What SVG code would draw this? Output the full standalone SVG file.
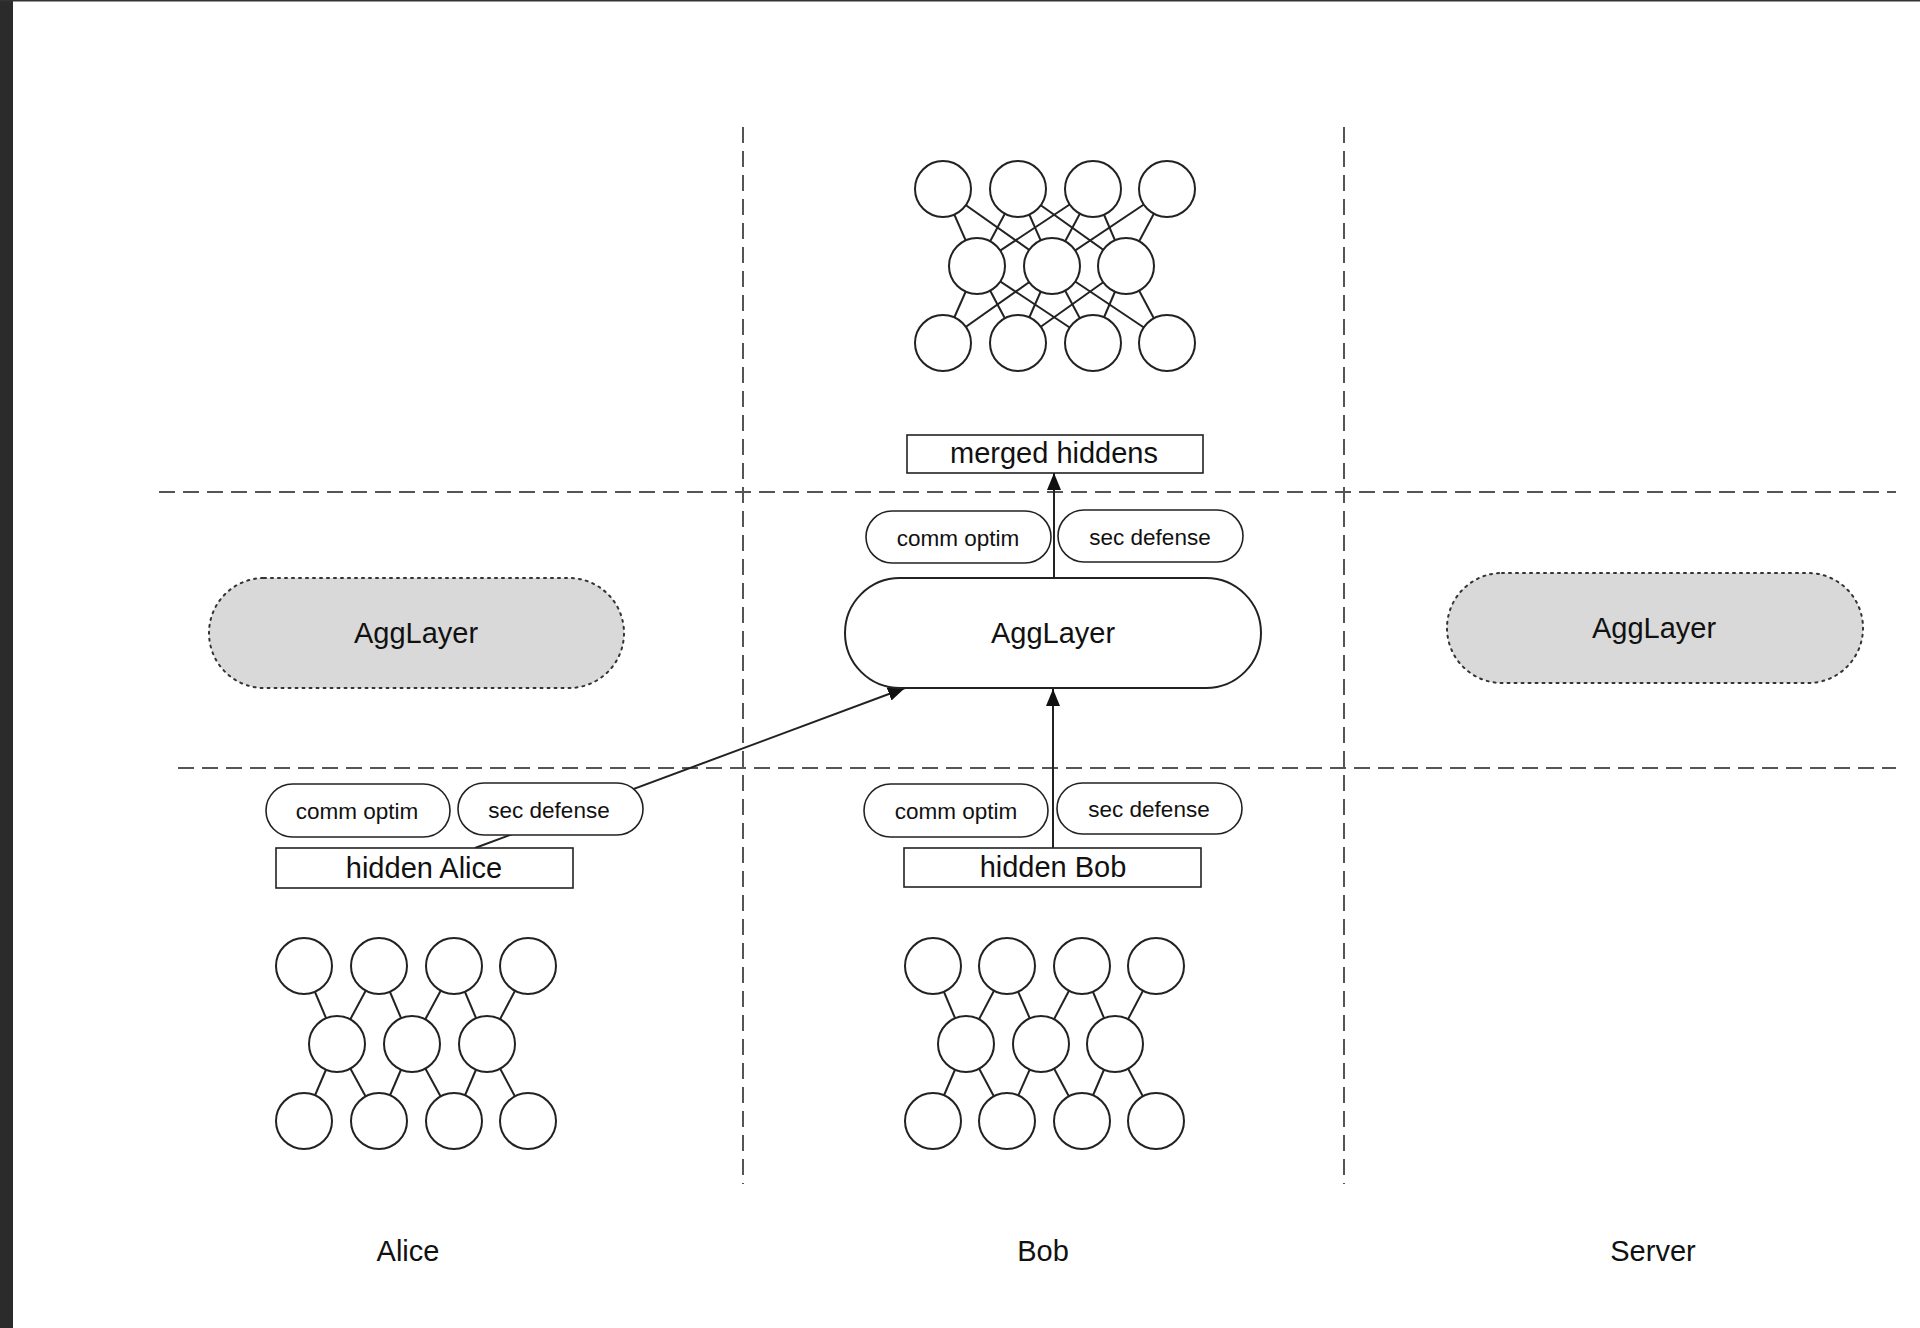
<svg xmlns="http://www.w3.org/2000/svg" width="1920" height="1328" viewBox="0 0 1920 1328">
<defs>
<style>
.dash{stroke:#555;stroke-width:2;stroke-dasharray:16 8;fill:none}
.nn line{stroke:#222;stroke-width:2}
.nn circle{fill:#fff;stroke:#222;stroke-width:2}
.pill{fill:#fff;stroke:#222;stroke-width:1.6}
.box{fill:#fff;stroke:#222;stroke-width:1.6}
.ghost{fill:#d9d9d9;stroke:#333;stroke-width:2;stroke-dasharray:2 5;stroke-linecap:round}
.agg{fill:#fff;stroke:#222;stroke-width:2}
text{font-family:"Liberation Sans",Arial,sans-serif;fill:#111;text-anchor:middle}
.t29{font-size:29px}
.t22{font-size:22.5px}
.conn{stroke:#222;stroke-width:2;fill:none}
</style>
<marker id="arr" viewBox="0 0 10 10" refX="10" refY="5" markerWidth="8" markerHeight="8" markerUnits="userSpaceOnUse" orient="auto">
<path d="M0,0 L10,5 L0,10 z" fill="#111"/>
</marker>
<marker id="ah" viewBox="0 0 17 14" refX="17" refY="7" markerWidth="17" markerHeight="14" markerUnits="userSpaceOnUse" orient="auto">
<path d="M0,0 L17,7 L0,14 z" fill="#111"/>
</marker>
</defs>
<rect x="0" y="0" width="1920" height="1328" fill="#fff"/>
<rect x="0" y="0" width="13" height="1328" fill="#2b2b2b"/>
<rect x="0" y="0" width="1920" height="1.5" fill="#333"/>

<g id="dividers">
<line class="dash" x1="743" y1="127" x2="743" y2="1184"/>
<line class="dash" x1="1344" y1="127" x2="1344" y2="1184"/>
<line class="dash" x1="159" y1="492" x2="1896" y2="492"/>
<line class="dash" x1="178" y1="768" x2="1896" y2="768"/>
</g>

<g id="connectors">
<line class="conn" x1="475" y1="848" x2="905" y2="688" marker-end="url(#ah)"/>
<line class="conn" x1="1053" y1="848" x2="1053" y2="689" marker-end="url(#ah)"/>
<line class="conn" x1="1054" y1="578" x2="1054" y2="473" marker-end="url(#ah)"/>
</g>

<g id="net-merged" class="nn">
<line x1="977" y1="266" x2="943" y2="189"/><line x1="977" y1="266" x2="1018" y2="189"/><line x1="977" y1="266" x2="1093" y2="189"/>
<line x1="1052" y1="266" x2="943" y2="189"/><line x1="1052" y1="266" x2="1018" y2="189"/><line x1="1052" y1="266" x2="1093" y2="189"/><line x1="1052" y1="266" x2="1167" y2="189"/>
<line x1="1126" y1="266" x2="1018" y2="189"/><line x1="1126" y1="266" x2="1093" y2="189"/><line x1="1126" y1="266" x2="1167" y2="189"/>
<line x1="977" y1="266" x2="943" y2="343"/><line x1="977" y1="266" x2="1018" y2="343"/><line x1="977" y1="266" x2="1093" y2="343"/>
<line x1="1052" y1="266" x2="943" y2="343"/><line x1="1052" y1="266" x2="1018" y2="343"/><line x1="1052" y1="266" x2="1093" y2="343"/><line x1="1052" y1="266" x2="1167" y2="343"/>
<line x1="1126" y1="266" x2="1018" y2="343"/><line x1="1126" y1="266" x2="1093" y2="343"/><line x1="1126" y1="266" x2="1167" y2="343"/>
<circle cx="943" cy="189" r="28"/><circle cx="1018" cy="189" r="28"/><circle cx="1093" cy="189" r="28"/><circle cx="1167" cy="189" r="28"/>
<circle cx="977" cy="266" r="28"/><circle cx="1052" cy="266" r="28"/><circle cx="1126" cy="266" r="28"/>
<circle cx="943" cy="343" r="28"/><circle cx="1018" cy="343" r="28"/><circle cx="1093" cy="343" r="28"/><circle cx="1167" cy="343" r="28"/>
</g>

<g id="merged-hiddens">
<rect class="box" x="907" y="435" width="296" height="38"/>
<text class="t29" x="1054" y="463">merged hiddens</text>
</g>

<g id="bob-top-comm-optim">
<rect class="pill" x="866" y="511" width="185" height="52" rx="26"/>
<text class="t22" x="958" y="546">comm optim</text>
</g>
<g id="bob-top-sec-defense">
<rect class="pill" x="1058" y="510" width="185" height="52" rx="26"/>
<text class="t22" x="1150" y="545">sec defense</text>
</g>

<g id="agg-alice">
<rect class="ghost" x="209" y="578" width="415" height="110" rx="55"/>
<text class="t29" x="416" y="643">AggLayer</text>
</g>
<g id="agg-bob">
<rect class="agg" x="845" y="578" width="416" height="110" rx="55"/>
<text class="t29" x="1053" y="643">AggLayer</text>
</g>
<g id="agg-server">
<rect class="ghost" x="1447" y="573" width="416" height="110" rx="55"/>
<text class="t29" x="1654" y="638">AggLayer</text>
</g>

<g id="alice-comm-optim">
<rect class="pill" x="266" y="784" width="184" height="53" rx="26.5"/>
<text class="t22" x="357" y="819">comm optim</text>
</g>
<g id="alice-sec-defense">
<rect class="pill" x="458" y="783" width="185" height="52" rx="26"/>
<text class="t22" x="549" y="818">sec defense</text>
</g>
<g id="hidden-alice">
<rect class="box" x="276" y="848" width="297" height="40"/>
<text class="t29" x="424" y="878">hidden Alice</text>
</g>

<g id="bob-comm-optim">
<rect class="pill" x="864" y="784" width="184" height="53" rx="26.5"/>
<text class="t22" x="956" y="819">comm optim</text>
</g>
<g id="bob-sec-defense">
<rect class="pill" x="1057" y="783" width="185" height="51" rx="25.5"/>
<text class="t22" x="1149" y="817">sec defense</text>
</g>
<g id="hidden-bob">
<rect class="box" x="904" y="848" width="297" height="39"/>
<text class="t29" x="1053" y="877">hidden Bob</text>
</g>

<g id="net-alice" class="nn">
<line x1="337" y1="1044" x2="304" y2="966"/><line x1="337" y1="1044" x2="379" y2="966"/>
<line x1="412" y1="1044" x2="379" y2="966"/><line x1="412" y1="1044" x2="454" y2="966"/>
<line x1="487" y1="1044" x2="454" y2="966"/><line x1="487" y1="1044" x2="528" y2="966"/>
<line x1="337" y1="1044" x2="304" y2="1121"/><line x1="337" y1="1044" x2="379" y2="1121"/>
<line x1="412" y1="1044" x2="379" y2="1121"/><line x1="412" y1="1044" x2="454" y2="1121"/>
<line x1="487" y1="1044" x2="454" y2="1121"/><line x1="487" y1="1044" x2="528" y2="1121"/>
<circle cx="304" cy="966" r="28"/><circle cx="379" cy="966" r="28"/><circle cx="454" cy="966" r="28"/><circle cx="528" cy="966" r="28"/>
<circle cx="337" cy="1044" r="28"/><circle cx="412" cy="1044" r="28"/><circle cx="487" cy="1044" r="28"/>
<circle cx="304" cy="1121" r="28"/><circle cx="379" cy="1121" r="28"/><circle cx="454" cy="1121" r="28"/><circle cx="528" cy="1121" r="28"/>
</g>

<g id="net-bob" class="nn">
<line x1="966" y1="1044" x2="933" y2="966"/><line x1="966" y1="1044" x2="1007" y2="966"/>
<line x1="1041" y1="1044" x2="1007" y2="966"/><line x1="1041" y1="1044" x2="1082" y2="966"/>
<line x1="1115" y1="1044" x2="1082" y2="966"/><line x1="1115" y1="1044" x2="1156" y2="966"/>
<line x1="966" y1="1044" x2="933" y2="1121"/><line x1="966" y1="1044" x2="1007" y2="1121"/>
<line x1="1041" y1="1044" x2="1007" y2="1121"/><line x1="1041" y1="1044" x2="1082" y2="1121"/>
<line x1="1115" y1="1044" x2="1082" y2="1121"/><line x1="1115" y1="1044" x2="1156" y2="1121"/>
<circle cx="933" cy="966" r="28"/><circle cx="1007" cy="966" r="28"/><circle cx="1082" cy="966" r="28"/><circle cx="1156" cy="966" r="28"/>
<circle cx="966" cy="1044" r="28"/><circle cx="1041" cy="1044" r="28"/><circle cx="1115" cy="1044" r="28"/>
<circle cx="933" cy="1121" r="28"/><circle cx="1007" cy="1121" r="28"/><circle cx="1082" cy="1121" r="28"/><circle cx="1156" cy="1121" r="28"/>
</g>

<g id="labels">
<text class="t29" x="408" y="1261">Alice</text>
<text class="t29" x="1043" y="1261">Bob</text>
<text class="t29" x="1653" y="1261">Server</text>
</g>
</svg>
